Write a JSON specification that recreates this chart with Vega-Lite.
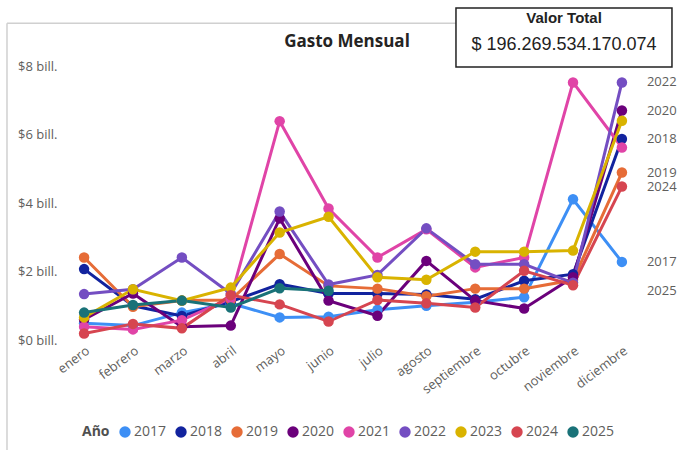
{
  "$schema": "https://vega.github.io/schema/vega-lite/v6.json",
  "width": 574,
  "height": 274,
  "autosize": {"type": "none"},
  "padding": {"left": 66, "top": 66, "right": 38, "bottom": 110},
  "background": "white",
  "config": {
    "font": "Open Sans",
    "view": {"stroke": null},
    "axisX": {"labelAngle": -37, "labelFontSize": 13, "labelColor": "#605E5C", "ticks": false, "domain": false, "grid": false, "labelPadding": 4},
    "axisY": {"labelFontSize": 13, "labelColor": "#605E5C", "ticks": false, "domain": false, "gridDash": [1, 5], "gridColor": "#B8B8B8", "labelPadding": 9}
  },
  "title": {"text": "Gasto Mensual", "fontSize": 17, "fontWeight": "bold", "color": "#252423", "anchor": "middle", "frame": "group", "offset": 0, "dy": 44, "dx": -6},
  "datasets": {
    "gasto": [
      {"mes":"enero","m":1,"Año":"2017","v":0.49},{"mes":"febrero","m":2,"Año":"2017","v":0.42},{"mes":"marzo","m":3,"Año":"2017","v":0.80},{"mes":"abril","m":4,"Año":"2017","v":1.07},{"mes":"mayo","m":5,"Año":"2017","v":0.66},{"mes":"junio","m":6,"Año":"2017","v":0.68},{"mes":"julio","m":7,"Año":"2017","v":0.88},{"mes":"agosto","m":8,"Año":"2017","v":1.00},{"mes":"septiembre","m":9,"Año":"2017","v":1.10},{"mes":"octubre","m":10,"Año":"2017","v":1.25},{"mes":"noviembre","m":11,"Año":"2017","v":4.11},{"mes":"diciembre","m":12,"Año":"2017","v":2.28},
      {"mes":"enero","m":1,"Año":"2018","v":2.07},{"mes":"febrero","m":2,"Año":"2018","v":1.00},{"mes":"marzo","m":3,"Año":"2018","v":0.70},{"mes":"abril","m":4,"Año":"2018","v":1.12},{"mes":"mayo","m":5,"Año":"2018","v":1.63},{"mes":"junio","m":6,"Año":"2018","v":1.36},{"mes":"julio","m":7,"Año":"2018","v":1.36},{"mes":"agosto","m":8,"Año":"2018","v":1.33},{"mes":"septiembre","m":9,"Año":"2018","v":1.19},{"mes":"octubre","m":10,"Año":"2018","v":1.73},{"mes":"noviembre","m":11,"Año":"2018","v":1.92},{"mes":"diciembre","m":12,"Año":"2018","v":5.87},
      {"mes":"enero","m":1,"Año":"2019","v":2.41},{"mes":"febrero","m":2,"Año":"2019","v":0.97},{"mes":"marzo","m":3,"Año":"2019","v":1.15},{"mes":"abril","m":4,"Año":"2019","v":1.17},{"mes":"mayo","m":5,"Año":"2019","v":2.51},{"mes":"junio","m":6,"Año":"2019","v":1.58},{"mes":"julio","m":7,"Año":"2019","v":1.50},{"mes":"agosto","m":8,"Año":"2019","v":1.28},{"mes":"septiembre","m":9,"Año":"2019","v":1.50},{"mes":"octubre","m":10,"Año":"2019","v":1.50},{"mes":"noviembre","m":11,"Año":"2019","v":1.75},{"mes":"diciembre","m":12,"Año":"2019","v":4.89},
      {"mes":"enero","m":1,"Año":"2020","v":0.60},{"mes":"febrero","m":2,"Año":"2020","v":1.36},{"mes":"marzo","m":3,"Año":"2020","v":0.39},{"mes":"abril","m":4,"Año":"2020","v":0.42},{"mes":"mayo","m":5,"Año":"2020","v":3.55},{"mes":"junio","m":6,"Año":"2020","v":1.15},{"mes":"julio","m":7,"Año":"2020","v":0.71},{"mes":"agosto","m":8,"Año":"2020","v":2.31},{"mes":"septiembre","m":9,"Año":"2020","v":1.15},{"mes":"octubre","m":10,"Año":"2020","v":0.92},{"mes":"noviembre","m":11,"Año":"2020","v":1.83},{"mes":"diciembre","m":12,"Año":"2020","v":6.70},
      {"mes":"enero","m":1,"Año":"2021","v":0.39},{"mes":"febrero","m":2,"Año":"2021","v":0.31},{"mes":"marzo","m":3,"Año":"2021","v":0.58},{"mes":"abril","m":4,"Año":"2021","v":1.22},{"mes":"mayo","m":5,"Año":"2021","v":6.39},{"mes":"junio","m":6,"Año":"2021","v":3.84},{"mes":"julio","m":7,"Año":"2021","v":2.41},{"mes":"agosto","m":8,"Año":"2021","v":3.23},{"mes":"septiembre","m":9,"Año":"2021","v":2.12},{"mes":"octubre","m":10,"Año":"2021","v":2.41},{"mes":"noviembre","m":11,"Año":"2021","v":7.52},{"mes":"diciembre","m":12,"Año":"2021","v":5.62},
      {"mes":"enero","m":1,"Año":"2022","v":1.34},{"mes":"febrero","m":2,"Año":"2022","v":1.48},{"mes":"marzo","m":3,"Año":"2022","v":2.41},{"mes":"abril","m":4,"Año":"2022","v":1.35},{"mes":"mayo","m":5,"Año":"2022","v":3.75},{"mes":"junio","m":6,"Año":"2022","v":1.62},{"mes":"julio","m":7,"Año":"2022","v":1.90},{"mes":"agosto","m":8,"Año":"2022","v":3.26},{"mes":"septiembre","m":9,"Año":"2022","v":2.21},{"mes":"octubre","m":10,"Año":"2022","v":2.21},{"mes":"noviembre","m":11,"Año":"2022","v":1.67},{"mes":"diciembre","m":12,"Año":"2022","v":7.52},
      {"mes":"enero","m":1,"Año":"2023","v":0.66},{"mes":"febrero","m":2,"Año":"2023","v":1.48},{"mes":"marzo","m":3,"Año":"2023","v":1.15},{"mes":"abril","m":4,"Año":"2023","v":1.53},{"mes":"mayo","m":5,"Año":"2023","v":3.14},{"mes":"junio","m":6,"Año":"2023","v":3.60},{"mes":"julio","m":7,"Año":"2023","v":1.83},{"mes":"agosto","m":8,"Año":"2023","v":1.76},{"mes":"septiembre","m":9,"Año":"2023","v":2.58},{"mes":"octubre","m":10,"Año":"2023","v":2.58},{"mes":"noviembre","m":11,"Año":"2023","v":2.61},{"mes":"diciembre","m":12,"Año":"2023","v":6.40},
      {"mes":"enero","m":1,"Año":"2024","v":0.19},{"mes":"febrero","m":2,"Año":"2024","v":0.47},{"mes":"marzo","m":3,"Año":"2024","v":0.34},{"mes":"abril","m":4,"Año":"2024","v":1.31},{"mes":"mayo","m":5,"Año":"2024","v":1.04},{"mes":"junio","m":6,"Año":"2024","v":0.54},{"mes":"julio","m":7,"Año":"2024","v":1.17},{"mes":"agosto","m":8,"Año":"2024","v":1.07},{"mes":"septiembre","m":9,"Año":"2024","v":0.95},{"mes":"octubre","m":10,"Año":"2024","v":2.02},{"mes":"noviembre","m":11,"Año":"2024","v":1.60},{"mes":"diciembre","m":12,"Año":"2024","v":4.48},
      {"mes":"enero","m":1,"Año":"2025","v":0.80},{"mes":"febrero","m":2,"Año":"2025","v":1.02},{"mes":"marzo","m":3,"Año":"2025","v":1.15},{"mes":"abril","m":4,"Año":"2025","v":0.95},{"mes":"mayo","m":5,"Año":"2025","v":1.51},{"mes":"junio","m":6,"Año":"2025","v":1.44}
    ]
  },
  "layer": [
    {
      "data": {"values": [{"titulo": "Valor Total", "valor": "$ 196.269.534.170.074"}]},
      "layer": [
        {
          "mark": {"type": "rule", "color": "#D0D0D0", "strokeWidth": 1.5},
          "encoding": {
            "x": {"datum": -0.1028, "type": "quantitative", "scale": {"domain": [0, 1]}, "axis": null},
            "y": {"datum": 9.247, "type": "quantitative", "scale": {"domain": [0, 8], "nice": false}},
            "y2": {"datum": -3.3}
          }
        },
        {
          "mark": {"type": "rule", "color": "#D0D0D0", "strokeWidth": 1.5},
          "encoding": {
            "x": {"datum": -0.1028, "type": "quantitative", "scale": {"domain": [0, 1]}, "axis": null},
            "x2": {"datum": 0.6794},
            "y": {"datum": 9.247, "type": "quantitative", "scale": {"domain": [0, 8], "nice": false}}
          }
        }
      ]
    },
    {
      "data": {"name": "gasto"},
      "layer": [
        {
          "mark": {"type": "line", "strokeWidth": 3},
          "encoding": {
            "x": {"field": "mes", "type": "ordinal", "sort": ["enero","febrero","marzo","abril","mayo","junio","julio","agosto","septiembre","octubre","noviembre","diciembre"], "scale": {"padding": 0.37}, "axis": {"title": null}},
            "y": {"field": "v", "type": "quantitative", "scale": {"domain": [0, 8], "nice": false}, "axis": {"title": null, "values": [0, 2, 4, 6, 8], "labelExpr": "'$' + datum.value + ' bill.'"}},
            "color": {"field": "Año", "type": "nominal", "scale": {"domain": ["2017","2018","2019","2020","2021","2022","2023","2024","2025"], "range": ["#3D8FF5","#12239E","#E66C37","#6B007B","#E044A7","#744EC2","#D9B300","#D64550","#197278"]},
              "legend": {"title": "Año", "orient": "none", "legendX": 16, "legendY": 359, "direction": "horizontal", "titleOrient": "left", "symbolType": "circle", "symbolSize": 130, "symbolStrokeWidth": 0, "labelFontSize": 14, "titleFontSize": 14, "titleFontWeight": "bold", "titleColor": "#505050", "labelColor": "#605E5C", "columnPadding": 7, "labelOffset": 2, "titlePadding": 8, "titleBaseline": "middle"}},
            "order": {"field": "m"}
          }
        },
        {
          "mark": {"type": "point", "filled": true, "size": 110, "opacity": 1},
          "encoding": {
            "x": {"field": "mes", "type": "ordinal", "sort": ["enero","febrero","marzo","abril","mayo","junio","julio","agosto","septiembre","octubre","noviembre","diciembre"]},
            "y": {"field": "v", "type": "quantitative"},
            "color": {"field": "Año", "type": "nominal"}
          }
        },
        {
          "transform": [
            {"aggregate": [{"op": "argmax", "field": "m", "as": "last"}], "groupby": ["Año"]},
            {"filter": "datum['Año'] != '2021' && datum['Año'] != '2023'"}
          ],
          "mark": {"type": "text", "align": "left", "baseline": "middle", "dx": 25, "fontSize": 13, "color": "#605E5C"},
          "encoding": {
            "x": {"datum": "diciembre", "type": "ordinal"},
            "y": {"field": "last.v", "type": "quantitative"},
            "text": {"field": "Año"}
          }
        }
      ]
    },
    {
      "data": {"values": [{"titulo": "Valor Total", "valor": "$ 196.269.534.170.074"}]},
      "layer": [
        {
          "mark": {"type": "rect", "fill": "white", "stroke": "#222222", "strokeWidth": 1.5},
          "encoding": {
            "x": {"datum": 0.6794, "type": "quantitative", "scale": {"domain": [0, 1]}, "axis": null},
            "x2": {"datum": 1.0557},
            "y": {"datum": 9.69, "type": "quantitative", "scale": {"domain": [0, 8], "nice": false}},
            "y2": {"datum": 7.97}
          }
        },
        {
          "mark": {"type": "text", "font": "Liberation Sans", "fontWeight": "bold", "fontSize": 15, "color": "#222222", "baseline": "middle"},
          "encoding": {
            "x": {"datum": 0.8676, "type": "quantitative", "scale": {"domain": [0, 1]}, "axis": null},
            "y": {"datum": 9.4, "type": "quantitative"},
            "text": {"field": "titulo"}
          }
        },
        {
          "mark": {"type": "text", "font": "Liberation Sans", "fontSize": 18, "color": "#222222", "baseline": "middle"},
          "encoding": {
            "x": {"datum": 0.8676, "type": "quantitative", "scale": {"domain": [0, 1]}, "axis": null},
            "y": {"datum": 8.61, "type": "quantitative"},
            "text": {"field": "valor"}
          }
        }
      ]
    }
  ],
  "resolve": {"scale": {"x": "independent"}}
}
